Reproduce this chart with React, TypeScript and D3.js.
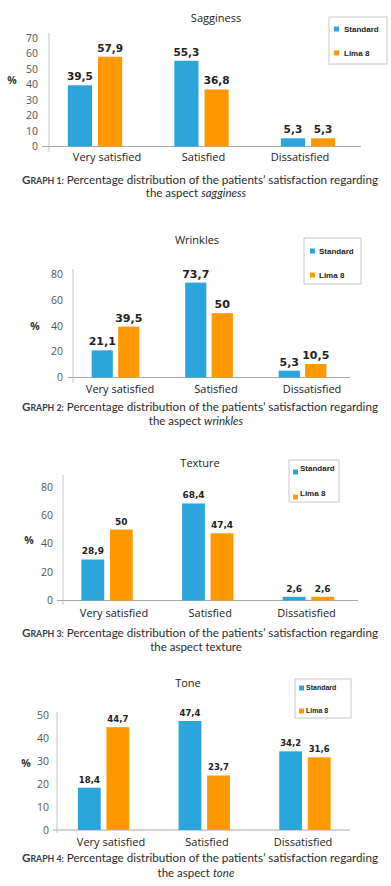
import * as d3 from "d3";

const CATEGORIES = ["Very satisfied", "Satisfied", "Dissatisfied"];
const SERIES = ["Standard", "Lima 8"];

const SAGGINESS_STANDARD = [39.5, 55.3, 5.3];
const SAGGINESS_LIMA = [57.9, 36.8, 5.3];
const SAGGINESS_TICKS = [0, 10, 20, 30, 40, 50, 60, 70];

const WRINKLES_STANDARD = [21.1, 73.7, 5.3];
const WRINKLES_LIMA = [39.5, 50, 10.5];
const WRINKLES_TICKS = [0, 20, 40, 60, 80];

const TEXTURE_STANDARD = [28.9, 68.4, 2.6];
const TEXTURE_LIMA = [50, 47.4, 2.6];
const TEXTURE_TICKS = [0, 20, 40, 60, 80];

const TONE_STANDARD = [18.4, 47.4, 34.2];
const TONE_LIMA = [44.7, 23.7, 31.6];
const TONE_TICKS = [0, 10, 20, 30, 40, 50];

const COLORS = ["#2ca5dd", "#ff9900"];

const W = 391;
const H = 886;

type Layout = {
  title: [number, number];
  axisX: number;
  axisTop: number;
  axisBottom: number;
  xAxis: [number, number];
  yMax: number;
  yRange: [number, number];
  band: [number, number];
  labelPts: [number, number];
  labelY: number;
  pct: [number, number];
  tickRight: number;
  legend: { x: number; y: number; w: number; h: number; rows: [number, number]; sqX: number; textX: number; sqDy: number; font: number };
  caption: [number, number];
  valueFont: number;
};

const charts: {
  title: string;
  num: number;
  aspect: string;
  italic: boolean;
  standard: number[];
  lima: number[];
  ticks: number[];
  lay: Layout;
}[] = [
  {
    title: "Sagginess",
    num: 1,
    aspect: "sagginess",
    italic: true,
    standard: SAGGINESS_STANDARD,
    lima: SAGGINESS_LIMA,
    ticks: SAGGINESS_TICKS,
    lay: {
      title: [216, 22],
      axisX: 49,
      axisTop: 33,
      axisBottom: 152,
      xAxis: [42, 361],
      yMax: 70,
      yRange: [146.5, 38],
      band: [41.75, 361.25],
      labelPts: [107, 300],
      labelY: 161,
      pct: [12, 84],
      tickRight: 38,
      legend: { x: 329, y: 17, w: 58, h: 47, rows: [29, 53], sqX: 334, textX: 344, sqDy: 0, font: 8 },
      caption: [184, 197],
      valueFont: 10.5,
    },
  },
  {
    title: "Wrinkles",
    num: 2,
    aspect: "wrinkles",
    italic: true,
    standard: WRINKLES_STANDARD,
    lima: WRINKLES_LIMA,
    ticks: WRINKLES_TICKS,
    lay: {
      title: [197, 244],
      axisX: 73,
      axisTop: 269,
      axisBottom: 383,
      xAxis: [68, 350],
      yMax: 80,
      yRange: [377.5, 274.5],
      band: [68.75, 349.25],
      labelPts: [120, 312],
      labelY: 393,
      pct: [35, 330],
      tickRight: 63,
      legend: { x: 304, y: 238, w: 57, h: 46, rows: [251, 275], sqX: 310, textX: 319, sqDy: 0, font: 8 },
      caption: [411, 425],
      valueFont: 11,
    },
  },
  {
    title: "Texture",
    num: 3,
    aspect: "texture",
    italic: false,
    standard: TEXTURE_STANDARD,
    lima: TEXTURE_LIMA,
    ticks: TEXTURE_TICKS,
    lay: {
      title: [200, 467],
      axisX: 63,
      axisTop: 475,
      axisBottom: 605,
      xAxis: [57, 358],
      yMax: 80,
      yRange: [600.5, 487],
      band: [56.75, 358.75],
      labelPts: [114, 306.5],
      labelY: 617,
      pct: [29, 544],
      tickRight: 53,
      legend: { x: 289, y: 460, w: 50, h: 42, rows: [468, 493], sqX: 293, textX: 300, sqDy: 4, font: 8 },
      caption: [637, 651],
      valueFont: 9,
    },
  },
  {
    title: "Tone",
    num: 4,
    aspect: "tone",
    italic: true,
    standard: TONE_STANDARD,
    lima: TONE_LIMA,
    ticks: TONE_TICKS,
    lay: {
      title: [188, 687],
      axisX: 57,
      axisTop: 712,
      axisBottom: 833,
      xAxis: [53, 350],
      yMax: 50,
      yRange: [830, 715],
      band: [53.25, 355.25],
      labelPts: [111, 303],
      labelY: 846,
      pct: [26, 767],
      tickRight: 49,
      legend: { x: 295, y: 679, w: 56, h: 39, rows: [688, 711], sqX: 299, textX: 306, sqDy: 0, font: 7 },
      caption: [862, 877],
      valueFont: 8.5,
    },
  },
];

const fmt = (v: number) => String(v).replace(".", ",");

function BarChart({ c }: { c: (typeof charts)[number] }) {
  const L = c.lay;
  const y = d3.scaleLinear().domain([0, L.yMax]).range(L.yRange);
  const x = d3.scaleBand<string>().domain(CATEGORIES).range(L.band).paddingInner(0.49).paddingOuter(0.245);
  const xs = d3.scaleBand<string>().domain(SERIES).range([0, x.bandwidth()]).paddingInner(0.2);
  const xl = d3.scalePoint<string>().domain(CATEGORIES).range(L.labelPts);
  const values = [c.standard, c.lima];

  return (
    <g>
      <text x={L.title[0]} y={L.title[1]} textAnchor="middle" fontFamily="Open Sans" fontSize={11} fill="#222">
        {c.title}
      </text>

      {/* axes */}
      <line x1={L.axisX} x2={L.axisX} y1={L.axisTop} y2={L.axisBottom} stroke="#c4c4c4" />
      <line x1={L.xAxis[0]} x2={L.xAxis[1]} y1={y(0)} y2={y(0)} stroke="#a8a8a8" />
      {c.ticks.map((t) => (
        <text
          key={t}
          x={L.tickRight}
          y={y(t)}
          dy="0.35em"
          textAnchor="end"
          fontFamily="Open Sans"
          fontSize={10.5}
          fill="#555"
        >
          {t}
        </text>
      ))}
      <text x={L.pct[0]} y={L.pct[1]} textAnchor="middle" fontFamily="Open Sans" fontWeight={700} fontSize={10.5} fill="#333">
        %
      </text>

      {SERIES.map((s, si) =>
        CATEGORIES.map((cat, ci) => {
          const v = values[si][ci];
          const bx = (x(cat) ?? 0) + (xs(s) ?? 0);
          return (
            <g key={s + cat}>
              <rect x={bx} y={y(v)} width={xs.bandwidth()} height={y(0) - y(v)} fill={COLORS[si]} />
              <text
                x={bx + xs.bandwidth() / 2}
                y={y(v) - 5}
                textAnchor="middle"
                fontFamily="DejaVu Sans"
                fontWeight={700}
                fontSize={L.valueFont}
                fill="#222"
              >
                {fmt(v)}
              </text>
            </g>
          );
        }),
      )}

      {CATEGORIES.map((cat) => (
        <text key={cat} x={xl(cat)} y={L.labelY} textAnchor="middle" fontFamily="Open Sans" fontSize={11} fill="#222">
          {cat}
        </text>
      ))}

      {/* legend */}
      <rect x={L.legend.x} y={L.legend.y} width={L.legend.w} height={L.legend.h} fill="#fff" stroke="#c8c8c8" />
      {SERIES.map((s, i) => (
        <g key={s}>
          <rect x={L.legend.sqX} y={L.legend.rows[i] - 2.5 + L.legend.sqDy} width={5} height={5} fill={COLORS[i]} />
          <text
            x={L.legend.textX}
            y={L.legend.rows[i]}
            dy="0.35em"
            fontFamily="Liberation Sans"
            fontWeight={700}
            fontSize={L.legend.font}
            fill="#222"
          >
            {s}
          </text>
        </g>
      ))}

      {/* caption */}
      <text x={22} y={L.caption[0]} textLength={356} lengthAdjust="spacingAndGlyphs" fontFamily="Lato" fontSize={12} fill="#2b2b2b">
        <tspan fontWeight={700} fill="#34404d">G</tspan>
        <tspan fontWeight={700} fill="#34404d" fontSize={9}>RAPH {c.num}:</tspan>
        <tspan> Percentage distribution of the patients’ satisfaction regarding</tspan>
      </text>
      <text x={196} y={L.caption[1]} textAnchor="middle" fontFamily="Lato" fontSize={11.5} fill="#2b2b2b">
        the aspect <tspan fontStyle={c.italic ? "italic" : "normal"}>{c.aspect}</tspan>
      </text>
    </g>
  );
}

export default function App() {
  return (
    <div style={{ position: "absolute", left: 0, top: 0 }}>
      <svg width={W} height={H} style={{ display: "block", background: "#fff" }}>
        {charts.map((c) => (
          <BarChart key={c.num} c={c} />
        ))}
      </svg>
    </div>
  );
}
